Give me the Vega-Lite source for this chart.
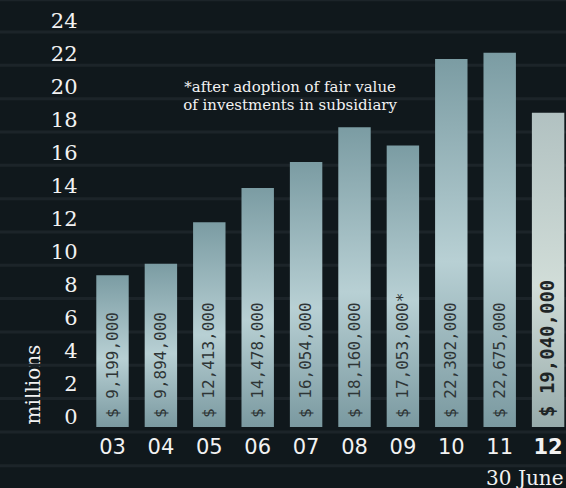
{
  "$schema": "https://vega.github.io/schema/vega-lite/v6.json",
  "width": 566,
  "height": 488,
  "padding": 0,
  "autosize": {"type": "none"},
  "background": "#10181c",
  "config": {"view": {"stroke": null}},
  "datasets": {
    "bars": [
      {"year": "03", "value": 9.199, "label": "$ 9,199,000"},
      {"year": "04", "value": 9.894, "label": "$ 9,894,000"},
      {"year": "05", "value": 12.413, "label": "$ 12,413,000"},
      {"year": "06", "value": 14.478, "label": "$ 14,478,000"},
      {"year": "07", "value": 16.054, "label": "$ 16,054,000"},
      {"year": "08", "value": 18.16, "label": "$ 18,160,000"},
      {"year": "09", "value": 17.053, "label": "$ 17,053,000*"},
      {"year": "10", "value": 22.302, "label": "$ 22,302,000"},
      {"year": "11", "value": 22.675, "label": "$ 22,675,000"},
      {"year": "12", "value": 19.04, "label": "$ 19,040,000"}
    ],
    "stripes": [
      {"v": -2.35}, {"v": -0.3}, {"v": 1.72}, {"v": 3.74}, {"v": 5.76},
      {"v": 7.78}, {"v": 9.8}, {"v": 11.82}, {"v": 13.84}, {"v": 15.86},
      {"v": 17.88}, {"v": 19.9}, {"v": 21.92}, {"v": 23.94}, {"v": 25.9}
    ],
    "notes": [
      {"note": "*after adoption of fair value", "pos": 20.62},
      {"note": "of investments in subsidiary", "pos": 19.5}
    ]
  },
  "layer": [
    {
      "data": {"name": "stripes"},
      "mark": {"type": "rule", "color": "#1c2429", "strokeWidth": 3},
      "encoding": {
        "y": {
          "field": "v",
          "type": "quantitative",
          "title": "millions",
          "scale": {"domain": [-3.7, 25.88], "nice": false, "zero": false},
          "axis": {
            "orient": "left",
            "offset": -79,
            "values": [0, 2, 4, 6, 8, 10, 12, 14, 16, 18, 20, 22, 24],
            "domain": false,
            "ticks": false,
            "tickSize": 0,
            "grid": false,
            "labelPadding": 2,
            "labelOffset": -9.5,
            "labelFont": "DejaVu Serif",
            "labelFontSize": 21,
            "labelColor": "#f2f2f2",
            "labelOverlap": false,
            "labelFlush": false,
            "labelBound": false,
            "title": "millions",
            "titleFont": "DejaVu Serif",
            "titleFontSize": 20,
            "titleFontWeight": "normal",
            "titleColor": "#f2f2f2",
            "titleAngle": -90,
            "titleX": -46,
            "titleY": 384,
            "titleAlign": "center",
            "titleBaseline": "middle"
          }
        }
      }
    },
    {
      "data": {"name": "bars"},
      "mark": {"type": "bar"},
      "encoding": {
        "x": {
          "field": "year",
          "type": "nominal",
          "title": "30 June",
          "scale": {
            "domain": ["03", "04", "05", "06", "07", "08", "09", "10", "11", "12"],
            "range": [88.3, 572.3],
            "paddingInner": 0.33,
            "paddingOuter": 0.165
          },
          "axis": {
            "orient": "bottom",
            "offset": -61,
            "domain": false,
            "ticks": false,
            "tickSize": 0,
            "grid": false,
            "labelAngle": 0,
            "labelPadding": 20,
            "labelBaseline": "middle",
            "labelFont": "DejaVu Sans",
            "labelFontSize": 21,
            "labelColor": "#f2f2f2",
            "labelFontWeight": {"condition": {"test": "datum.value === '12'", "value": "bold"}, "value": "normal"},
            "title": "30 June",
            "titleFont": "DejaVu Serif",
            "titleFontSize": 20,
            "titleFontWeight": "normal",
            "titleColor": "#f2f2f2",
            "titleX": 563,
            "titleY": 51,
            "titleAlign": "right",
            "titleBaseline": "middle"
          }
        },
        "y": {"field": "value", "type": "quantitative", "title": "millions"},
        "y2": {"datum": 0},
        "fill": {
          "condition": {
            "test": "datum.year === '12'",
            "value": {
              "gradient": "linear", "x1": 0, "y1": 0, "x2": 0, "y2": 1,
              "stops": [
                {"offset": 0, "color": "#b1c1c1"},
                {"offset": 0.55, "color": "#d1ddd8"},
                {"offset": 1, "color": "#97abab"}
              ]
            }
          },
          "value": {
            "gradient": "linear", "x1": 0, "y1": 0, "x2": 0, "y2": 1,
            "stops": [
              {"offset": 0, "color": "#7b9ca3"},
              {"offset": 0.55, "color": "#b8d0d4"},
              {"offset": 1, "color": "#7a99a0"}
            ]
          }
        }
      }
    },
    {
      "data": {"name": "bars"},
      "transform": [{"filter": "datum.year !== '12'"}],
      "mark": {"type": "text", "angle": -90, "align": "left", "baseline": "middle", "dx": 9, "font": "DejaVu Sans Mono", "fontSize": 16, "color": "#2e3536"},
      "encoding": {
        "x": {"field": "year", "type": "nominal", "title": "30 June"},
        "y": {"datum": 0},
        "text": {"field": "label"}
      }
    },
    {
      "data": {"name": "bars"},
      "transform": [{"filter": "datum.year === '12'"}],
      "mark": {"type": "text", "angle": -90, "align": "left", "baseline": "middle", "dx": 10, "font": "DejaVu Sans Mono", "fontSize": 19, "fontWeight": "bold", "color": "#1f2526"},
      "encoding": {
        "x": {"field": "year", "type": "nominal", "title": "30 June"},
        "y": {"datum": 0},
        "text": {"field": "label"}
      }
    },
    {
      "data": {"name": "notes"},
      "mark": {"type": "text", "align": "center", "baseline": "middle", "dx": -16, "font": "DejaVu Serif", "fontSize": 15, "color": "#f2f2f2"},
      "encoding": {
        "x": {"datum": "07", "type": "nominal"},
        "y": {"field": "pos", "type": "quantitative", "title": "millions"},
        "text": {"field": "note"}
      }
    }
  ]
}
